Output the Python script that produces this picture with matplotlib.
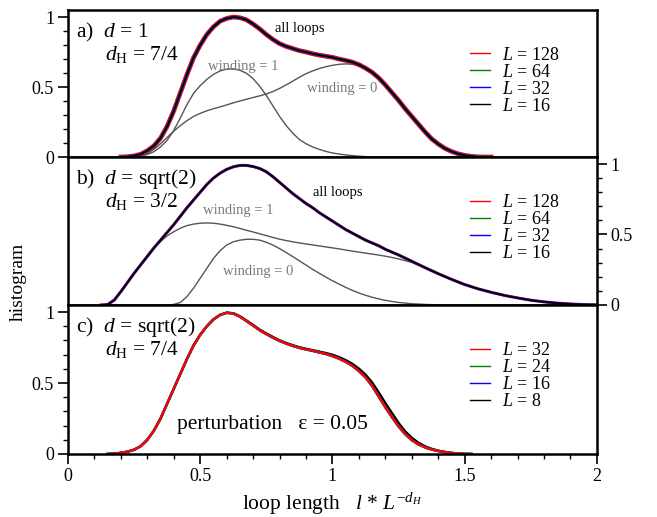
import numpy as np
import matplotlib
matplotlib.use("Agg")
import matplotlib.pyplot as plt
from matplotlib.ticker import MultipleLocator

plt.rcParams['font.family'] = ['Liberation Serif', 'DejaVu Serif']
plt.rcParams['mathtext.fontset'] = 'custom'
plt.rcParams['mathtext.rm'] = 'Liberation Serif'
plt.rcParams['mathtext.it'] = 'Liberation Serif:italic'

# panel a)  d = 1, dH = 7/4
a_x = [0.200, 0.225, 0.250, 0.275, 0.300, 0.325, 0.350, 0.375, 0.400, 0.425, 0.450, 0.475,
       0.500, 0.525, 0.550, 0.575, 0.600, 0.625, 0.650, 0.675, 0.700, 0.725, 0.750, 0.775,
       0.800, 0.825, 0.850, 0.875, 0.900, 0.925, 0.950, 0.975, 1.000, 1.025, 1.050, 1.075,
       1.100, 1.125, 1.150, 1.175, 1.200, 1.225, 1.250, 1.275, 1.300, 1.325, 1.350, 1.375,
       1.400, 1.425, 1.450, 1.475, 1.500, 1.525, 1.550, 1.575, 1.600]
a_all = [0.0, 0.002, 0.008, 0.02, 0.045, 0.08, 0.135, 0.22, 0.33, 0.46, 0.59, 0.71,
         0.80, 0.875, 0.93, 0.97, 0.99, 1.0, 0.995, 0.98, 0.95, 0.915, 0.875, 0.84,
         0.81, 0.79, 0.775, 0.76, 0.75, 0.738, 0.728, 0.72, 0.712, 0.70, 0.69, 0.678,
         0.66, 0.635, 0.605, 0.565, 0.515, 0.46, 0.405, 0.345, 0.29, 0.235, 0.18, 0.13,
         0.093, 0.062, 0.04, 0.023, 0.012, 0.005, 0.001, 0.0, 0.0]
a_w1 = [0.0, 0.0, 0.002, 0.007, 0.018, 0.038, 0.072, 0.12, 0.19, 0.28, 0.375, 0.455,
        0.51, 0.555, 0.59, 0.615, 0.628, 0.63, 0.62, 0.598, 0.56, 0.505, 0.44, 0.365,
        0.29, 0.225, 0.17, 0.125, 0.095, 0.072, 0.055, 0.04, 0.029, 0.021, 0.015, 0.01,
        0.006, 0.003, 0.001, 0.0, 0.0, 0.0, 0.0, 0.0, 0.0, 0.0, 0.0, 0.0,
        0.0, 0.0, 0.0, 0.0, 0.0, 0.0, 0.0, 0.0, 0.0]
a_w0 = [0.0, 0.0, 0.003, 0.01, 0.025, 0.055, 0.095, 0.14, 0.185, 0.225, 0.26, 0.29,
        0.312, 0.33, 0.345, 0.358, 0.372, 0.387, 0.40, 0.413, 0.425, 0.437, 0.45, 0.468,
        0.49, 0.515, 0.542, 0.57, 0.595, 0.615, 0.632, 0.645, 0.655, 0.662, 0.665, 0.663,
        0.65, 0.63, 0.602, 0.565, 0.515, 0.46, 0.405, 0.345, 0.29, 0.235, 0.18, 0.13,
        0.093, 0.062, 0.04, 0.023, 0.012, 0.005, 0.001, 0.0, 0.0]

# panel b)  d = sqrt(2), dH = 3/2
b_x = [0.125, 0.150, 0.175, 0.200, 0.225, 0.250, 0.275, 0.300, 0.325, 0.350, 0.375, 0.400,
       0.425, 0.450, 0.475, 0.500, 0.525, 0.550, 0.575, 0.600, 0.625, 0.650, 0.675, 0.700,
       0.725, 0.750, 0.775, 0.800, 0.825, 0.850, 0.875, 0.900, 0.925, 0.950, 0.975, 1.000,
       1.025, 1.050, 1.075, 1.100, 1.125, 1.150, 1.175, 1.200, 1.225, 1.250, 1.30, 1.35,
       1.40, 1.45, 1.50, 1.55, 1.60, 1.65, 1.70, 1.75, 1.80, 1.85, 1.90, 1.95, 2.00]
b_all = [0.0, 0.003, 0.035, 0.095, 0.16, 0.225, 0.285, 0.345, 0.405, 0.46, 0.515, 0.57,
         0.63, 0.69, 0.745, 0.80, 0.855, 0.90, 0.935, 0.962, 0.98, 0.99, 0.99, 0.982,
         0.968, 0.945, 0.91, 0.87, 0.83, 0.79, 0.755, 0.72, 0.69, 0.655, 0.625, 0.595,
         0.565, 0.535, 0.51, 0.485, 0.46, 0.44, 0.42, 0.395, 0.375, 0.355, 0.31, 0.265,
         0.222, 0.182, 0.145, 0.115, 0.09, 0.068, 0.05, 0.034, 0.022, 0.013, 0.007, 0.003, 0.001]
b_w1 = [0.0, 0.003, 0.035, 0.095, 0.16, 0.225, 0.285, 0.345, 0.40, 0.45, 0.49, 0.52,
        0.545, 0.563, 0.574, 0.58, 0.582, 0.58, 0.574, 0.565, 0.555, 0.543, 0.53, 0.518,
        0.505, 0.492, 0.479, 0.467, 0.457, 0.448, 0.44, 0.433, 0.426, 0.419, 0.412, 0.405,
        0.398, 0.39, 0.382, 0.375, 0.368, 0.361, 0.354, 0.346, 0.337, 0.327, 0.302, 0.263,
        0.222, 0.182, 0.145, 0.115, 0.09, 0.068, 0.05, 0.034, 0.022, 0.013, 0.007, 0.003, 0.001]
b_w0 = [0.0, 0.0, 0.0, 0.0, 0.0, 0.0, 0.0, 0.0, 0.0, 0.0, 0.0, 0.004,
        0.018, 0.06, 0.12, 0.19, 0.26, 0.33, 0.385, 0.425, 0.448, 0.46, 0.466, 0.466,
        0.46, 0.445, 0.425, 0.40, 0.372, 0.343, 0.313, 0.283, 0.253, 0.225, 0.198, 0.172,
        0.148, 0.125, 0.104, 0.085, 0.069, 0.055, 0.043, 0.033, 0.025, 0.018, 0.009, 0.004,
        0.001, 0.0, 0.0, 0.0, 0.0, 0.0, 0.0, 0.0, 0.0, 0.0, 0.0, 0.0, 0.0]

# panel c)  d = sqrt(2), dH = 7/4, perturbation eps = 0.05
c_x = [0.150, 0.175, 0.200, 0.225, 0.250, 0.275, 0.300, 0.325, 0.350, 0.375, 0.400, 0.425,
       0.450, 0.475, 0.500, 0.525, 0.550, 0.575, 0.600, 0.625, 0.650, 0.675, 0.700, 0.725,
       0.750, 0.775, 0.800, 0.825, 0.850, 0.875, 0.900, 0.925, 0.950, 0.975, 1.000, 1.025,
       1.050, 1.075, 1.100, 1.125, 1.150, 1.175, 1.200, 1.225, 1.250, 1.275, 1.300, 1.325,
       1.350, 1.375, 1.400, 1.425, 1.450, 1.475, 1.500, 1.525]
c_L32 = [0.0, 0.002, 0.008, 0.016, 0.03, 0.055, 0.10, 0.165, 0.25, 0.355, 0.46, 0.565,
         0.67, 0.765, 0.84, 0.90, 0.948, 0.98, 0.995, 0.99, 0.968, 0.937, 0.905, 0.872,
         0.845, 0.82, 0.797, 0.778, 0.762, 0.748, 0.737, 0.727, 0.716, 0.705, 0.69, 0.672,
         0.65, 0.622, 0.585, 0.54, 0.48, 0.405, 0.33, 0.26, 0.195, 0.14, 0.098, 0.068,
         0.047, 0.032, 0.021, 0.013, 0.007, 0.003, 0.0, 0.0]
c_L8 = [0.0, 0.002, 0.008, 0.016, 0.03, 0.055, 0.10, 0.165, 0.25, 0.355, 0.46, 0.565,
        0.67, 0.765, 0.84, 0.90, 0.948, 0.98, 0.996, 0.992, 0.971, 0.941, 0.91, 0.877,
        0.85, 0.825, 0.802, 0.783, 0.767, 0.753, 0.742, 0.732, 0.722, 0.712, 0.70, 0.683,
        0.662, 0.636, 0.602, 0.56, 0.505, 0.435, 0.36, 0.29, 0.22, 0.16, 0.115, 0.08,
        0.055, 0.037, 0.024, 0.015, 0.008, 0.004, 0.001, 0.0]

labels_ab = ['128', '64', '32', '16']
labels_c = ['32', '24', '16', '8']

fig = plt.figure(figsize=(6.57, 5.17), dpi=100)
ax_a = fig.add_axes([0.1035, 0.6963, 0.805, 0.2843])
ax_b = fig.add_axes([0.1035, 0.4101, 0.805, 0.2863])
ax_c = fig.add_axes([0.1035, 0.1219, 0.805, 0.2882])

grey = '#555555'
lab_grey = '#777777'

# a
ax_a.plot(a_x, a_w1, color=grey, lw=1.0)
ax_a.plot(a_x, a_w0, color=grey, lw=1.0)
ax_a.plot(a_x, a_all, color='red', lw=3.4, label=r'$L$ = ' + labels_ab[0])
ax_a.plot(a_x, a_all, color='green', lw=2.0, label=r'$L$ = ' + labels_ab[1])
ax_a.plot(a_x, a_all, color='blue', lw=1.6, label=r'$L$ = ' + labels_ab[2])
ax_a.plot(a_x, a_all, color='black', lw=1.0, label=r'$L$ = ' + labels_ab[3])

# b
ax_b.plot(b_x, b_w1, color=grey, lw=1.0)
ax_b.plot(b_x, b_w0, color=grey, lw=1.0)
ax_b.plot(b_x, b_all, color='red', lw=2.2, label=r'$L$ = ' + labels_ab[0])
ax_b.plot(b_x, b_all, color='green', lw=1.6, label=r'$L$ = ' + labels_ab[1])
ax_b.plot(b_x, b_all, color='blue', lw=1.5, label=r'$L$ = ' + labels_ab[2])
ax_b.plot(b_x, b_all, color='black', lw=1.0, label=r'$L$ = ' + labels_ab[3])

# c  (red on top, L=8 sits a little to the right on the way down)
h8, = ax_c.plot(c_x, c_L8, color='black', lw=1.6)
h16, = ax_c.plot(c_x, c_L32, color='blue', lw=1.9)
h24, = ax_c.plot(c_x, c_L32, color='green', lw=1.7)
h32, = ax_c.plot(c_x, c_L32, color='red', lw=1.6)

fs_leg = 13
for ax in (ax_a, ax_b):
    leg = ax.legend(loc='center left', bbox_to_anchor=(0.76, 0.52), frameon=False,
                    fontsize=fs_leg, handlelength=1.1, handletextpad=0.65,
                    labelspacing=0.0, borderpad=0, borderaxespad=0)
    for ln in leg.get_lines():
        ln.set_linewidth(1.0)
leg = ax_c.legend([h32, h24, h16, h8], [r'$L$ = ' + s for s in labels_c],
                  loc='center left', bbox_to_anchor=(0.76, 0.52), frameon=False,
                  fontsize=fs_leg, handlelength=1.1, handletextpad=0.65,
                  labelspacing=0.0, borderpad=0, borderaxespad=0)
for ln in leg.get_lines():
    ln.set_linewidth(1.0)

# panel titles
fs_t = 15.5
panels = [(ax_a, 'a)', '1', '7/4'), (ax_b, 'b)', 'sqrt(2)', '3/2'), (ax_c, 'c)', 'sqrt(2)', '7/4')]
for ax, tag, dval, dh in panels:
    ax.text(0.015, 0.85, tag + r'  $d$ = ' + dval, transform=ax.transAxes,
            fontsize=fs_t, va='center', ha='left')
    ax.text(0.07, 0.70, r'$d_{\mathrm{H}}$ = ' + dh, transform=ax.transAxes,
            fontsize=fs_t, va='center', ha='left')

fs_s = 10.5
ax_a.text(0.783, 0.92, 'all loops', fontsize=fs_s, va='center')
ax_a.text(0.529, 0.645, 'winding = 1', fontsize=fs_s, va='center', color=lab_grey)
ax_a.text(0.902, 0.49, 'winding = 0', fontsize=fs_s, va='center', color=lab_grey)
ax_b.text(0.927, 0.80, 'all loops', fontsize=fs_s, va='center')
ax_b.text(0.512, 0.67, 'winding = 1', fontsize=fs_s, va='center', color=lab_grey)
ax_b.text(0.587, 0.236, 'winding = 0', fontsize=fs_s, va='center', color=lab_grey)
ax_c.text(0.411, 0.206, 'perturbation   ε = 0.05', fontsize=15.5, va='center')

for ax in (ax_a, ax_b, ax_c):
    ax.set_xlim(0, 2)
    ax.set_ylim(0, 1.05)
    for sp in ax.spines.values():
        sp.set_linewidth(1.8)
    ax.xaxis.set_major_locator(MultipleLocator(0.5))
    ax.xaxis.set_minor_locator(MultipleLocator(0.1))
    ax.yaxis.set_major_locator(MultipleLocator(0.5))
    ax.yaxis.set_minor_locator(MultipleLocator(0.1))
    ax.tick_params(which='major', direction='out', length=7, width=1.2, labelsize=13, pad=3)
    ax.tick_params(which='minor', direction='out', length=3.5, width=1.0)
    ax.set_yticks([0, 0.5, 1])
    ax.set_yticklabels(['0', '0.5', '1'])

ax_a.tick_params(axis='x', which='both', bottom=False, labelbottom=False)
ax_b.tick_params(axis='x', which='both', bottom=False, labelbottom=False)
ax_b.yaxis.tick_right()
ax_c.set_xticks([0, 0.5, 1, 1.5, 2])
ax_c.set_xticklabels(['0', '0.5', '1', '1.5', '2'])

ax_c.set_xlabel(r'loop length   $l$ * $L^{-d_H}$', fontsize=15.5, labelpad=4)
fig.text(0.028, 0.455, 'histogram', rotation=90, fontsize=14, va='center', ha='center')

fig.savefig('out.png', dpi=100)
